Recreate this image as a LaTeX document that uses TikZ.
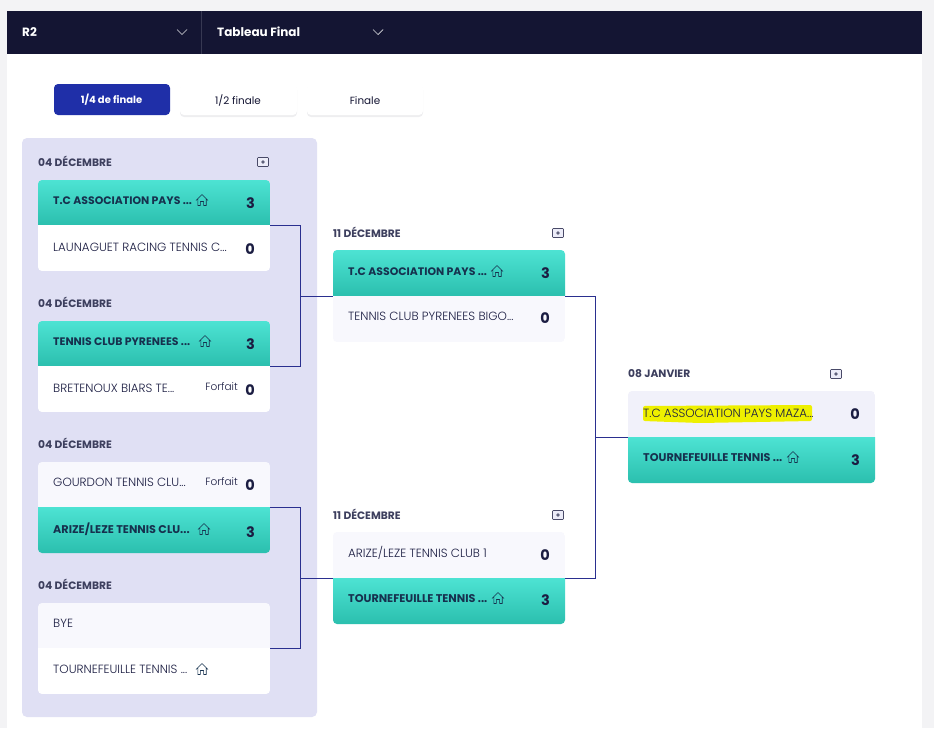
\documentclass[tikz,border=0pt]{standalone}
\usepackage{fontspec}
\setmainfont{Poppins}
\newfontfamily\lightf{Poppins Light}
\usetikzlibrary{shadows,calc}
\definecolor{navy}{HTML}{141533}
\definecolor{btnblue}{HTML}{1F2FA8}
\definecolor{panel}{HTML}{E0E0F4}
\definecolor{outer}{HTML}{F3F3F5}
\definecolor{tealA}{HTML}{4DE3D3}
\definecolor{tealB}{HTML}{2BBFAE}
\definecolor{lightrow}{HTML}{F8F8FD}
\definecolor{lightrowB}{HTML}{F1F1FA}
\definecolor{ink}{HTML}{1B1D42}
\definecolor{linkc}{HTML}{2A2F8F}
\definecolor{marker}{HTML}{EEF000}
\tikzset{
  x=1pt,y=-1pt,
  rowbox/.style={inner sep=0pt,outer sep=0pt,anchor=north west},
  win/.style={top color=tealA,bottom color=tealB,draw=none},
  whiterow/.style={fill=white},
  softrow/.style={fill=lightrow},
  softrowB/.style={fill=lightrowB},
  wintext/.style={anchor=west,inner sep=0pt,font=\fontsize{11.2}{12}\selectfont\bfseries,text=ink!80!teal},
  wintextB/.style={wintext,font=\fontsize{10.9}{12}\selectfont\bfseries},
  plaintext/.style={anchor=west,inner sep=0pt,font=\fontsize{11.9}{13}\lightf,text=ink},
  forfait/.style={anchor=east,inner sep=0pt,font=\fontsize{10.5}{11}\lightf,text=ink},
  scoretext/.style={anchor=east,inner sep=0pt,font=\fontsize{14.5}{15}\selectfont\bfseries,text=ink},
  datetext/.style={anchor=west,inner sep=0pt,font=\fontsize{10.7}{12}\selectfont\bfseries,text=ink!85},
  tabtext/.style={inner sep=0pt,font=\fontsize{10.4}{12}\selectfont},
  tabbox/.style={inner sep=0pt,outer sep=0pt,rounded corners=4pt,minimum height=31pt},
  softshadow/.style={drop shadow={shadow xshift=0pt,shadow yshift=-2pt,opacity=.07,fill=navy}},
  link/.style={draw=linkc,line width=.9pt},
  homeicon/.style={draw=ink!80!teal,line width=.6pt,line join=round},
}
% id, x, y, width, height, row look: rounded top corners
\newcommand{\rowtop}[6]{%
  \node[rowbox,minimum width=#4pt,minimum height=#5pt] (#1) at (#2,#3) {};
  \begin{scope}
    \clip[rounded corners=4pt] (#1.north west) rectangle ($(#1.south east)+(0,10)$);
    \path[#6] (#1.north west) rectangle (#1.south east);
  \end{scope}
}
% the same with rounded bottom corners
\newcommand{\rowbot}[6]{%
  \node[rowbox,minimum width=#4pt,minimum height=#5pt] (#1) at (#2,#3) {};
  \begin{scope}
    \clip[rounded corners=4pt] ($(#1.north west)+(0,-10)$) rectangle (#1.south east);
    \path[#6] (#1.north west) rectangle (#1.south east);
  \end{scope}
}
% id, x, y
\newcommand{\homeat}[3]{%
  \coordinate (#1) at (#2,#3);
  \path[homeicon] ($(#1)+(-6,.5)$) -- ($(#1)+(0,-5.5)$) -- ($(#1)+(6,.5)$)
    ($(#1)+(-4.2,-.8)$) -- ($(#1)+(-4.2,5.5)$) -- ($(#1)+(-1.6,5.5)$) -- ($(#1)+(-1.6,1.5)$) -- ($(#1)+(1.6,1.5)$) -- ($(#1)+(1.6,5.5)$) -- ($(#1)+(4.2,5.5)$) -- ($(#1)+(4.2,-.8)$);
}
\newcommand{\calat}[3]{%
  \coordinate (#1) at (#2,#3);
  \path[draw=ink!80,line width=.6pt,rounded corners=.8pt,fill=white!40!panel] ($(#1)+(-5.5,-4.5)$) rectangle ($(#1)+(5.5,4.5)$);
  \path[fill=ink!70] (#1) circle (1.8pt);
}
% id, date, x, y
\newcommand{\dateline}[4]{\node[datetext] (#1) at (#3,#4) {#2};}
\newcommand{\chev}[3]{%
  \coordinate (#1) at (#2,#3);
  \path[draw=white!85!navy,line width=.7pt] ($(#1)+(-5,-2.5)$) -- ($(#1)+(0,2.5)$) -- ($(#1)+(5,-2.5)$);
}
\begin{document}
\begin{tikzpicture}
\useasboundingbox (0,0) rectangle (934,728);
\fill[outer] (0,0) rectangle (934,728);
\fill[white] (7,11) rectangle (922,728);
% header
\node[rowbox,fill=navy,minimum width=915pt,minimum height=43pt] (bar) at (7,11) {};
\coordinate (divtop) at (201,11); \coordinate (divbot) at (201,54);
\draw[white!15!navy,line width=.6pt] (divtop) -- (divbot);
\node[anchor=west,inner sep=0pt,text=white,font=\fontsize{12}{13}\selectfont\bfseries] (r2) at (22,32) {R2};
\node[anchor=west,inner sep=0pt,text=white,font=\fontsize{12}{13}\selectfont\bfseries] (tf) at (217,32) {Tableau Final};
\chev{ch1}{182}{32}
\chev{ch2}{378}{32}
% tabs
\node[rowbox,tabbox,fill=btnblue,minimum width=116pt] (tab1) at (54,84) {};
\node[rowbox,tabbox,softshadow,fill=white,minimum width=117pt] (tab2) at (180,84) {};
\node[rowbox,tabbox,softshadow,fill=white,minimum width=116pt] (tab3) at (307,84) {};
\node[tabtext,text=white,font=\fontsize{10}{12}\selectfont\bfseries] (tab1t) at ($(tab1.center)+(-.5,.5)$) {1/4 de finale};
\node[tabtext,text=navy] (tab2t) at ($(tab2.center)+(-.5,.8)$) {1/2 finale};
\node[tabtext,text=navy] (tab3t) at ($(tab3.center)+(0,.8)$) {Finale};
% panel
\node[rowbox,fill=panel,rounded corners=5pt,minimum width=295pt,minimum height=579pt] (pan) at (22,138) {};
% column 1
\dateline{d1}{04 DÉCEMBRE}{38}{161.2}
\calat{k1}{263}{162}
\rowtop{c1a}{38}{180}{232}{45}{win}
\rowbot{c1b}{38}{225}{232}{46}{whiterow}
\node[wintextB] (c1at) at (53,200.5) {T.C ASSOCIATION PAYS ...};
\homeat{c1ah}{202}{200}
\node[scoretext] (c1as) at (255,203) {3};
\node[plaintext] (c1bt) at (53,247) {LAUNAGUET RACING TENNIS C...};
\node[scoretext] (c1bs) at (255,249) {0};

\dateline{d2}{04 DÉCEMBRE}{38}{302.2}
\rowtop{c2a}{38}{321}{232}{45}{win}
\rowbot{c2b}{38}{366}{232}{46}{whiterow}
\node[wintextB] (c2at) at (53,341.5) {TENNIS CLUB PYRENEES ...};
\homeat{c2ah}{205}{341}
\node[scoretext] (c2as) at (255,344) {3};
\node[plaintext] (c2bt) at (53,388) {BRETENOUX BIARS TE...};
\node[forfait] (c2bf) at (238,387) {Forfait};
\node[scoretext] (c2bs) at (255,390) {0};

\dateline{d3}{04 DÉCEMBRE}{38}{443.2}
\rowtop{c3a}{38}{462}{232}{45}{softrow}
\rowbot{c3b}{38}{507}{232}{46}{win}
\node[plaintext] (c3at) at (53,482) {GOURDON TENNIS CLU...};
\node[forfait] (c3af) at (238,482) {Forfait};
\node[scoretext] (c3as) at (255,485) {0};
\node[wintext] (c3bt) at (53,529.5) {ARIZE/LEZE TENNIS CLU...};
\homeat{c3bh}{204}{529}
\node[scoretext] (c3bs) at (255,532) {3};

\dateline{d4}{04 DÉCEMBRE}{38}{584.2}
\rowtop{c4a}{38}{603}{232}{45}{softrow}
\rowbot{c4b}{38}{648}{232}{46}{whiterow}
\node[plaintext] (c4at) at (53,623) {BYE};
\node[plaintext] (c4bt) at (53,669) {TOURNEFEUILLE TENNIS ...};
\homeat{c4bh}{202}{669}
% column 2
\dateline{d5}{11 DÉCEMBRE}{333}{232.2}
\calat{k2}{558}{233}
\rowtop{m1a}{333}{250}{232}{46}{win}
\rowbot{m1b}{333}{296}{232}{46}{softrow}
\node[wintextB] (m1at) at (348,271.5) {T.C ASSOCIATION PAYS ...};
\homeat{m1ah}{497}{271}
\node[scoretext] (m1as) at (550,273) {3};
\node[plaintext] (m1bt) at (348,316) {TENNIS CLUB PYRENEES BIGO...};
\node[scoretext] (m1bs) at (550,318) {0};

\dateline{d6}{11 DÉCEMBRE}{333}{514.2}
\calat{k3}{558}{515}
\rowtop{m2a}{333}{532}{232}{46}{softrow}
\rowbot{m2b}{333}{578}{232}{46}{win}
\node[plaintext] (m2at) at (348,553) {ARIZE/LEZE TENNIS CLUB 1};
\node[scoretext] (m2as) at (550,555) {0};
\node[wintext] (m2bt) at (348,598.5) {TOURNEFEUILLE TENNIS ...};
\homeat{m2bh}{498}{598}
\node[scoretext] (m2bs) at (550,600) {3};
% final
\dateline{d7}{08 JANVIER}{628}{374}
\calat{k4}{836}{374}
\rowtop{f1a}{628}{391}{247}{46}{softrowB}
\rowbot{f1b}{628}{437}{247}{46}{win}
\path[fill=marker,rounded corners=2pt] (643,406) -- (812,405) -- (812,421) -- (700,423) -- (643,421) -- cycle;
\node[plaintext] (f1at) at (643,413) {T.C ASSOCIATION PAYS MAZA...};
\node[scoretext] (f1as) at (860,414) {0};
\node[wintext] (f1bt) at (643,457.5) {TOURNEFEUILLE TENNIS ...};
\homeat{f1bh}{793}{457}
\node[scoretext] (f1bs) at (860,460) {3};
% connectors
\coordinate (j1) at (300,225); \coordinate (j2) at (300,366);
\coordinate (j3) at (300,507); \coordinate (j4) at (300,648);
\coordinate (j5) at (595,296); \coordinate (j6) at (595,578);
\coordinate (j7) at (595,437);
\draw[link] (c1b.north east) -- (j1) -- (j2) -- (c2b.north east);
\draw[link] (c3b.north east) -- (j3) -- (j4) -- (c4b.north east);
\draw[link] (m1b.north east) -- (j5) -- (j6) -- (m2b.north east);
\draw[link] (j1 |- m1b.north west) -- (m1b.north west);
\draw[link] (j3 |- m2b.north west) -- (m2b.north west);
\draw[link] (j7) -- (f1b.north west);
\end{tikzpicture}
\end{document}
